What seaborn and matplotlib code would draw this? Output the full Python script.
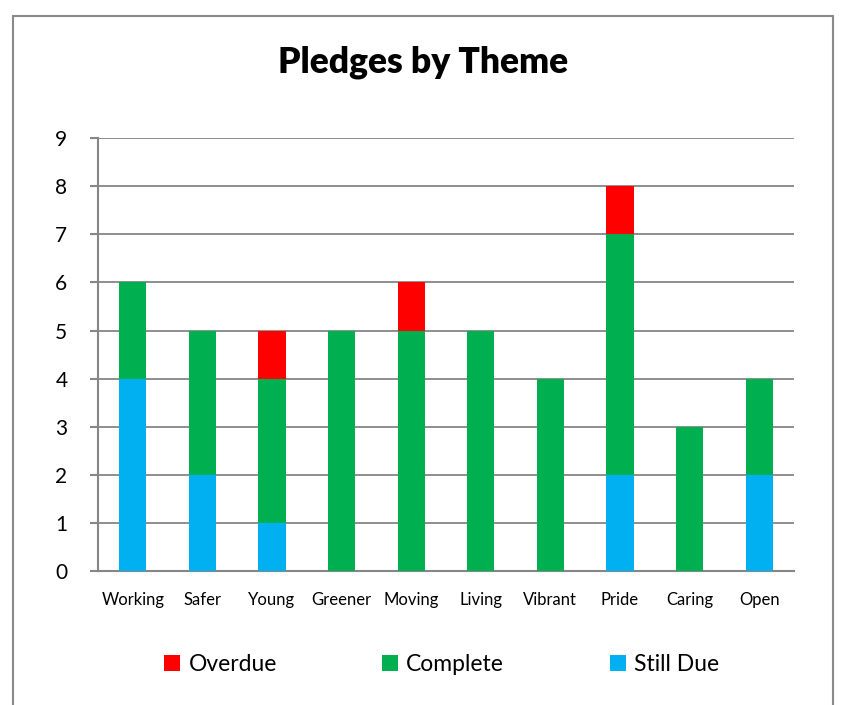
import pandas as pd
import matplotlib
matplotlib.use("Agg")
import matplotlib.pyplot as plt
import seaborn as sns
from matplotlib.patches import Patch
from matplotlib.lines import Line2D

# データ
themes = ["Working", "Safer", "Young", "Greener", "Moving", "Living", "Vibrant", "Pride", "Caring", "Open"]
still_due = [4, 2, 1, 0, 0, 0, 0, 2, 0, 2]
complete = [2, 3, 3, 5, 5, 5, 4, 5, 3, 2]
overdue = [0, 0, 1, 0, 1, 0, 0, 1, 0, 0]

COLORS = {"Overdue": "#FF0000", "Complete": "#00B050", "Still Due": "#00B0F0"}
GRID = "#868686"

sns.set_theme(style="white")
plt.rcParams['font.family'] = ['Lato', 'DejaVu Sans']
plt.rcParams['text.color'] = 'black'
plt.rcParams['xtick.labelcolor'] = 'black'
plt.rcParams['ytick.labelcolor'] = 'black'

df = pd.DataFrame({"Theme": themes, "Still Due": still_due, "Complete": complete, "Overdue": overdue})
df["lvl1"] = df["Still Due"]
df["lvl2"] = df["lvl1"] + df["Complete"]
df["lvl3"] = df["lvl2"] + df["Overdue"]

fig = plt.figure(figsize=(8.46, 7.05), dpi=100)
ax = fig.add_axes([0.1158, 0.190, 0.8227, 0.614])

# 積み上げ: 上から順に重ねて描く
for col, name in [("lvl3", "Overdue"), ("lvl2", "Complete"), ("lvl1", "Still Due")]:
    sns.barplot(data=df, x="Theme", y=col, color=COLORS[name], width=0.39,
                saturation=1, ax=ax, zorder=3, order=themes, linewidth=0, edgecolor="none")

ax.set_ylim(0, 9)
ax.set_xlim(-0.5, len(themes) - 0.5)
ax.set_yticks(range(10))
ax.set_xlabel("")
ax.set_ylabel("")
ax.yaxis.grid(True, color=GRID, linewidth=1.3, zorder=0)
ax.set_axisbelow(True)

for s in ["top", "right"]:
    ax.spines[s].set_visible(False)
for s in ["left", "bottom"]:
    ax.spines[s].set_color(GRID)
    ax.spines[s].set_linewidth(1.5)

# x目盛りはカテゴリの境界に
ax.set_xticks(range(len(themes)))
ax.set_xticklabels(themes, fontsize=12)
ax.tick_params(axis="x", length=0, pad=15)
ax.set_xticks([i - 0.5 for i in range(len(themes) + 1)], minor=True)
ax.tick_params(axis="x", which="minor", length=6, width=1.5, color=GRID, direction="out")
ax.tick_params(axis="y", length=6, width=1.5, color=GRID, direction="out", labelsize=15, pad=16)
ax.tick_params(axis="y", which="major", left=True)

fig.text(0.5, 0.912, "Pledges by Theme", ha="center", va="center",
         fontsize=25.5, fontweight="heavy", color="black")

handles = [Patch(facecolor=COLORS[n], edgecolor="none") for n in ["Overdue", "Complete", "Still Due"]]
fig.legend(handles, ["Overdue", "Complete", "Still Due"], loc="center",
           bbox_to_anchor=(0.522, 0.057), ncol=3, frameon=False, fontsize=16.5,
           handlelength=0.7, handleheight=0.7, handletextpad=0.35, columnspacing=4.6)

# グラフ枠
W, H = 846, 705
x0, x1, y0 = 13 / W, 833 / W, 1 - 16 / H
fig.add_artist(Line2D([x0, x1], [y0, y0], transform=fig.transFigure, color="#8A8A8A", lw=1.5))
fig.add_artist(Line2D([x0, x0], [y0, 0], transform=fig.transFigure, color="#8A8A8A", lw=1.5))
fig.add_artist(Line2D([x1, x1], [y0, 0], transform=fig.transFigure, color="#8A8A8A", lw=1.5))

fig.savefig("out.png", dpi=100, facecolor="white")
